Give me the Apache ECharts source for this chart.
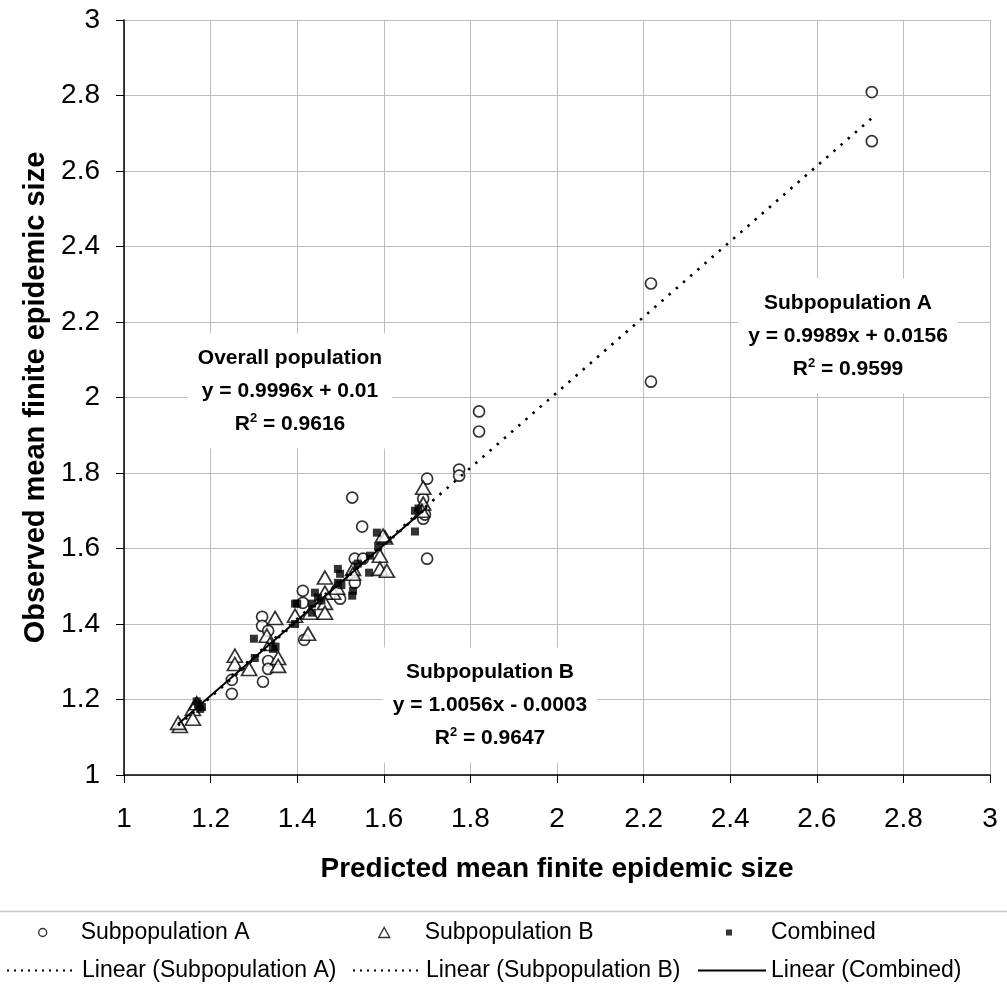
<!DOCTYPE html>
<html><head><meta charset="utf-8">
<script src="https://cdn.jsdelivr.net/npm/echarts@6/dist/echarts.min.js"></script>
<style>html,body{margin:0;padding:0;background:#fff}#c{width:1007px;height:997px}</style>
</head><body><div id="c"></div>
<script>
// Subpopulation A (open circles): [predicted, observed]
const subA = [
  [2.727,2.809],[2.727,2.679],[2.217,2.302],[2.217,2.042],[1.820,1.963],[1.820,1.910],
  [1.774,1.809],[1.774,1.793],[1.700,1.785],[1.691,1.732],[1.691,1.679],[1.700,1.573],
  [1.527,1.735],[1.550,1.658],[1.533,1.573],[1.552,1.573],[1.533,1.509],[1.499,1.467],
  [1.413,1.488],[1.413,1.456],[1.416,1.358],[1.319,1.419],[1.319,1.395],[1.333,1.382],
  [1.333,1.302],[1.333,1.281],[1.249,1.252],[1.321,1.247],[1.249,1.215],[1.695,1.690]
];
// Subpopulation B (open triangles)
const subB = [
  [1.691,1.761],[1.691,1.719],[1.688,1.700],[1.603,1.629],[1.598,1.634],[1.591,1.581],
  [1.591,1.546],[1.607,1.541],[1.529,1.546],[1.529,1.533],[1.464,1.523],[1.483,1.483],
  [1.464,1.483],[1.492,1.496],[1.464,1.456],[1.430,1.430],[1.464,1.430],[1.395,1.422],
  [1.425,1.374],[1.349,1.416],[1.330,1.369],[1.337,1.347],[1.356,1.310],[1.356,1.289],
  [1.256,1.316],[1.256,1.294],[1.289,1.281],[1.159,1.175],[1.159,1.149],[1.129,1.130],
  [1.125,1.138],[1.168,1.190]
];
// Combined (filled squares)
const combined = [
  [1.672,1.700],[1.672,1.645],[1.680,1.706],[1.584,1.642],[1.587,1.605],[1.566,1.536],
  [1.568,1.581],[1.494,1.546],[1.499,1.533],[1.494,1.509],[1.527,1.475],[1.529,1.488],
  [1.441,1.483],[1.434,1.454],[1.434,1.430],[1.400,1.454],[1.395,1.400],[1.395,1.454],
  [1.300,1.361],[1.344,1.334],[1.350,1.340],[1.302,1.310],[1.171,1.188],[1.176,1.175],
  [1.168,1.195],[1.180,1.180],[1.448,1.470],[1.456,1.462],[1.502,1.503],[1.540,1.560]
];
// Linear trend lines (end points)
const trendA = [[1.249,1.263],[2.727,2.740]];
const trendB = [[1.125,1.131],[1.691,1.700]];
const trendC = [[1.125,1.135],[1.700,1.709]];

const seriesNames = ['Subpopulation A','Subpopulation B','Combined',
  'Linear (Subpopulation A)','Linear (Subpopulation B)','Linear (Combined)'];

const annotations = [
  {title:'Subpopulation A', eq:'y = 0.9989x + 0.0156', r2:'0.9599', x:848, y:336},
  {title:'Overall population', eq:'y = 0.9996x + 0.01', r2:'0.9616', x:290, y:391},
  {title:'Subpopulation B', eq:'y = 1.0056x - 0.0003', r2:'0.9647', x:490, y:705}
];

const FONT = 'Liberation Sans, Arial, sans-serif';
const chart = echarts.init(document.getElementById('c'), null, {renderer:'canvas'});

const dotted = [2.5, 7];
const hollow = {color:'#fff', borderColor:'#000', borderWidth:1.4};
const legendPos = [
  {name:seriesNames[0], left:38, top:921, pad:29, w:8, h:8, item:hollow},
  {name:seriesNames[1], left:378, top:921, pad:30, w:11, h:10, item:hollow},
  {name:seriesNames[2], left:726, top:921, pad:34, w:6, h:6, item:{color:'#000', borderWidth:0}},
  {name:seriesNames[3], left:6, top:959, pad:0, w:70, h:10, line:{color:'#000', width:2, type:[2,5]}},
  {name:seriesNames[4], left:352, top:959, pad:0, w:68, h:10, line:{color:'#000', width:2, type:[2,5]}},
  {name:seriesNames[5], left:697, top:959, pad:0, w:68, h:10, line:{color:'#000', width:2, type:'solid'}}
];

const option = {
  backgroundColor:'#fff',
  animation:false,
  grid:{left:124, right:17, top:20, bottom:222, containLabel:false},
  xAxis:{
    type:'value', min:1, max:3, interval:0.2,
    name:'Predicted mean finite epidemic size', nameLocation:'middle', nameGap:80,
    nameTextStyle:{fontFamily:FONT, fontSize:28, fontWeight:'bold', color:'#000'},
    axisLine:{show:true, onZero:false, lineStyle:{color:'#000', width:1.5}},
    axisTick:{show:true, inside:false, length:8, lineStyle:{color:'#000'}},
    axisLabel:{fontFamily:FONT, fontSize:28, color:'#000', margin:30},
    splitLine:{show:true, lineStyle:{color:'#bdbdbd', width:1}}
  },
  yAxis:{
    type:'value', min:1, max:3, interval:0.2,
    name:'Observed mean finite epidemic size', nameLocation:'middle', nameGap:74,
    nameTextStyle:{fontFamily:FONT, fontSize:29, fontWeight:'bold', color:'#000'},
    axisLine:{show:true, onZero:false, lineStyle:{color:'#000', width:1.5}},
    axisTick:{show:true, inside:false, length:8, lineStyle:{color:'#000'}},
    axisLabel:{fontFamily:FONT, fontSize:28, color:'#000', margin:24},
    splitLine:{show:true, lineStyle:{color:'#bdbdbd', width:1}}
  },
  legend: legendPos.map(p => {
    const l = {
      data:[p.name], left:p.left, top:p.top, orient:'horizontal', padding:0,
      itemWidth:p.w, itemHeight:p.h, itemGap:0, selectedMode:false,
      textStyle:{fontFamily:FONT, fontSize:23, color:'#000', padding:[2,0,0,p.pad]}
    };
    if (p.item) l.itemStyle = p.item;
    if (p.line) { l.itemStyle = {opacity:0}; l.lineStyle = p.line; }
    return l;
  }),
  series:[
    {name:seriesNames[0], type:'scatter', data:subA, symbol:'circle', symbolSize:11,
     itemStyle:{color:'#fff', borderColor:'#000', borderWidth:1.7}, z:2},
    {name:seriesNames[1], type:'scatter', data:subB, symbol:'triangle', symbolSize:[15,13],
     itemStyle:{color:'#fff', borderColor:'#000', borderWidth:1.7}, z:3},
    {name:seriesNames[2], type:'scatter', data:combined, symbol:'rect', symbolSize:8,
     itemStyle:{color:'#000', borderColor:'#000', borderWidth:0}, z:4},
    {name:seriesNames[3], type:'line', data:trendA, showSymbol:false, symbol:'none', silent:true,
     lineStyle:{color:'#000', width:2.6, type:dotted}, itemStyle:{color:'#000'}, z:5},
    {name:seriesNames[4], type:'line', data:trendB, showSymbol:false, symbol:'none', silent:true,
     lineStyle:{color:'#000', width:2.6, type:dotted}, itemStyle:{color:'#000'}, z:5},
    {name:seriesNames[5], type:'line', data:trendC, showSymbol:false, symbol:'none', silent:true,
     lineStyle:{color:'#000', width:2, type:'solid'}, itemStyle:{color:'#000'}, z:6}
  ],
  graphic:[
    {type:'line', shape:{x1:0, y1:911.5, x2:1007, y2:911.5}, style:{stroke:'#c8c8c8', lineWidth:1.5}, silent:true}
  ].concat(annotations.map(a => ({
    type:'text', z:100, silent:true,
    style:{
      x:a.x, y:a.y, align:'center', verticalAlign:'middle',
      text:'{b|'+a.title+'}\n{b|'+a.eq+'}\n{b|R}{s|2}{b| = '+a.r2+'}',
      backgroundColor:'#fff', padding:[8,10,8,10],
      rich:{
        b:{fontFamily:FONT, fontSize:21, fontWeight:'bold', fill:'#000', color:'#000', lineHeight:33},
        s:{fontFamily:FONT, fontSize:13, fontWeight:'bold', fill:'#000', color:'#000', lineHeight:33, verticalAlign:'top', padding:[4,0,0,0]}
      }
    }
  })))
};
chart.setOption(option);
</script>
</body></html>
